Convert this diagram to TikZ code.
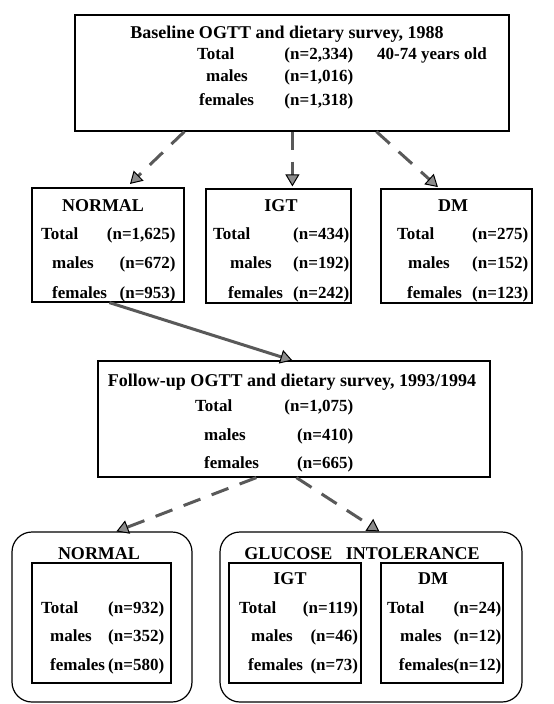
\documentclass[tikz,border=0pt]{standalone}
\usepackage{fontspec}
\setmainfont{Liberation Serif}
\usepackage{array}
\usetikzlibrary{arrows.meta}

\begin{document}
\begin{tikzpicture}[
    x=1pt, y=-1pt,
    font=\fontsize{18}{23}\selectfont\bfseries,
    box/.style={rectangle, draw, line width=1.2pt},
    group/.style={rectangle, draw, line width=1.2pt, rounded corners=20pt},
    title/.style={inner sep=0pt, anchor=base},
    rows/.style={inner sep=0pt, anchor=base west, font=\fontsize{17}{23}\selectfont\bfseries},
    flow/.style={line width=3pt, draw=black!65, -{Triangle[length=12pt,width=14pt,line width=1pt,color=black,fill=black!45]}},
    dashflow/.style={flow, dash pattern=on 18pt off 12pt}
]
\useasboundingbox (0,0) rectangle (554,704);

% Baseline survey
\node[box, minimum width=434pt, minimum height=116pt] (baseline) at (292,73) {};
\node[title] (baselineTitle) at (287,38) {Baseline OGTT and dietary survey, 1988};
\node[rows] (baselineRows) at (197,59) {\begin{tabular*}{156pt}[t]{@{}l@{\extracolsep{\fill}}r@{}}
Total & (n=2,334)\\[-1pt]
\hspace{9pt}males & (n=1,016)\\[2pt]
\hspace{2pt}females & (n=1,318)
\end{tabular*}};
\node[rows] (baselineAge) at (377,59) {40-74 years old};

% First classification
\node[box, minimum width=152pt, minimum height=114pt] (normal1) at (108,245) {};
\node[title] (normal1Title) at (103,211) {NORMAL};
\node[rows] (normal1Rows) at (41,239) {\begin{tabular*}{131pt}[t]{@{}l@{\extracolsep{\fill}}r@{}}
Total & (n=1,625)\\[6.5pt]
\hspace{11pt}males & (n=672)\\[6.5pt]
\hspace{11pt}females & (n=953)
\end{tabular*}};

\node[box, minimum width=145pt, minimum height=114pt] (igt1) at (278.5,246) {};
\node[title] (igt1Title) at (281,211) {IGT};
\node[rows] (igt1Rows) at (213,239) {\begin{tabular*}{136pt}[t]{@{}l@{\extracolsep{\fill}}r@{}}
Total & (n=434)\\[6.5pt]
\hspace{17pt}males & (n=192)\\[6.5pt]
\hspace{15pt}females & (n=242)
\end{tabular*}};

\node[box, minimum width=151pt, minimum height=114pt] (dm1) at (456.5,246) {};
\node[title] (dm1Title) at (453,211) {DM};
\node[rows] (dm1Rows) at (397,239) {\begin{tabular*}{131pt}[t]{@{}l@{\extracolsep{\fill}}r@{}}
Total & (n=275)\\[6.5pt]
\hspace{11pt}males & (n=152)\\[6.5pt]
\hspace{10pt}females & (n=123)
\end{tabular*}};

% Follow-up survey
\node[box, minimum width=392pt, minimum height=116pt] (followup) at (294,419) {};
\node[title] (followupTitle) at (292,386) {Follow-up OGTT and dietary survey, 1993/1994};
\node[rows] (followupRows) at (195,411) {\begin{tabular*}{158pt}[t]{@{}l@{\extracolsep{\fill}}r@{}}
Total & (n=1,075)\\[6pt]
\hspace{9pt}males & (n=410)\\[5pt]
\hspace{9pt}females & (n=665)
\end{tabular*}};

% Outcome groups
\node[group, minimum width=180pt, minimum height=170pt] (normal2) at (102,617) {};
\node[title] (normal2Title) at (99,559) {NORMAL};
\node[box, minimum width=139pt, minimum height=120pt] (normal3) at (101.5,623) {};
\node[rows] (normal3Rows) at (41,613) {\begin{tabular*}{123pt}[t]{@{}l@{\extracolsep{\fill}}r@{}}
Total & (n=932)\\[5.5pt]
\hspace{9pt}males & (n=352)\\[5.5pt]
\hspace{9pt}females & (n=580)
\end{tabular*}};

\node[group, minimum width=302pt, minimum height=170pt] (intol) at (371,617) {};
\node[title] (intolTitle) at (362,559) {GLUCOSE\hspace{0.75em}INTOLERANCE};

\node[box, minimum width=132pt, minimum height=120pt] (igt2) at (295,623) {};
\node[title] (igt2Title) at (290,584) {IGT};
\node[rows] (igt2Rows) at (239,613) {\begin{tabular*}{115pt}[t]{@{}l@{\extracolsep{\fill}}r@{}}
Total & (n=119)\\[5.5pt]
\hspace{12pt}males & (n=46)\\[5.5pt]
\hspace{9pt}females & (n=73)
\end{tabular*}};

\node[box, minimum width=122pt, minimum height=120pt] (dm2) at (442,623) {};
\node[title] (dm2Title) at (433,584) {DM};
\node[rows] (dm2Rows) at (387,613) {\begin{tabular*}{114pt}[t]{@{}l@{\extracolsep{\fill}}r@{}}
Total & (n=24)\\[5.5pt]
\hspace{13pt}males & (n=12)\\[5.5pt]
\multicolumn{2}{@{}r@{}}{females(n=12)}
\end{tabular*}};

% Arrows
\draw[dashflow, shorten >=5pt] ([xshift=110pt]baseline.south west) -- ([xshift=95pt]normal1.north west);
\draw[dashflow, shorten >=2pt] ([xshift=218pt]baseline.south west) -- ([xshift=87pt]igt1.north west);
\draw[dashflow, shorten >=2pt] ([xshift=302pt]baseline.south west) -- ([xshift=59pt]dm1.north west);
\draw[flow] ([xshift=78pt]normal1.south west) -- ([xshift=195pt]followup.north west);
\draw[dashflow] ([xshift=159pt]followup.south west) -- ([xshift=105pt]normal2.north west);
\draw[dashflow] ([xshift=199pt]followup.south west) -- ([xshift=160pt]intol.north west);

\end{tikzpicture}
\end{document}
